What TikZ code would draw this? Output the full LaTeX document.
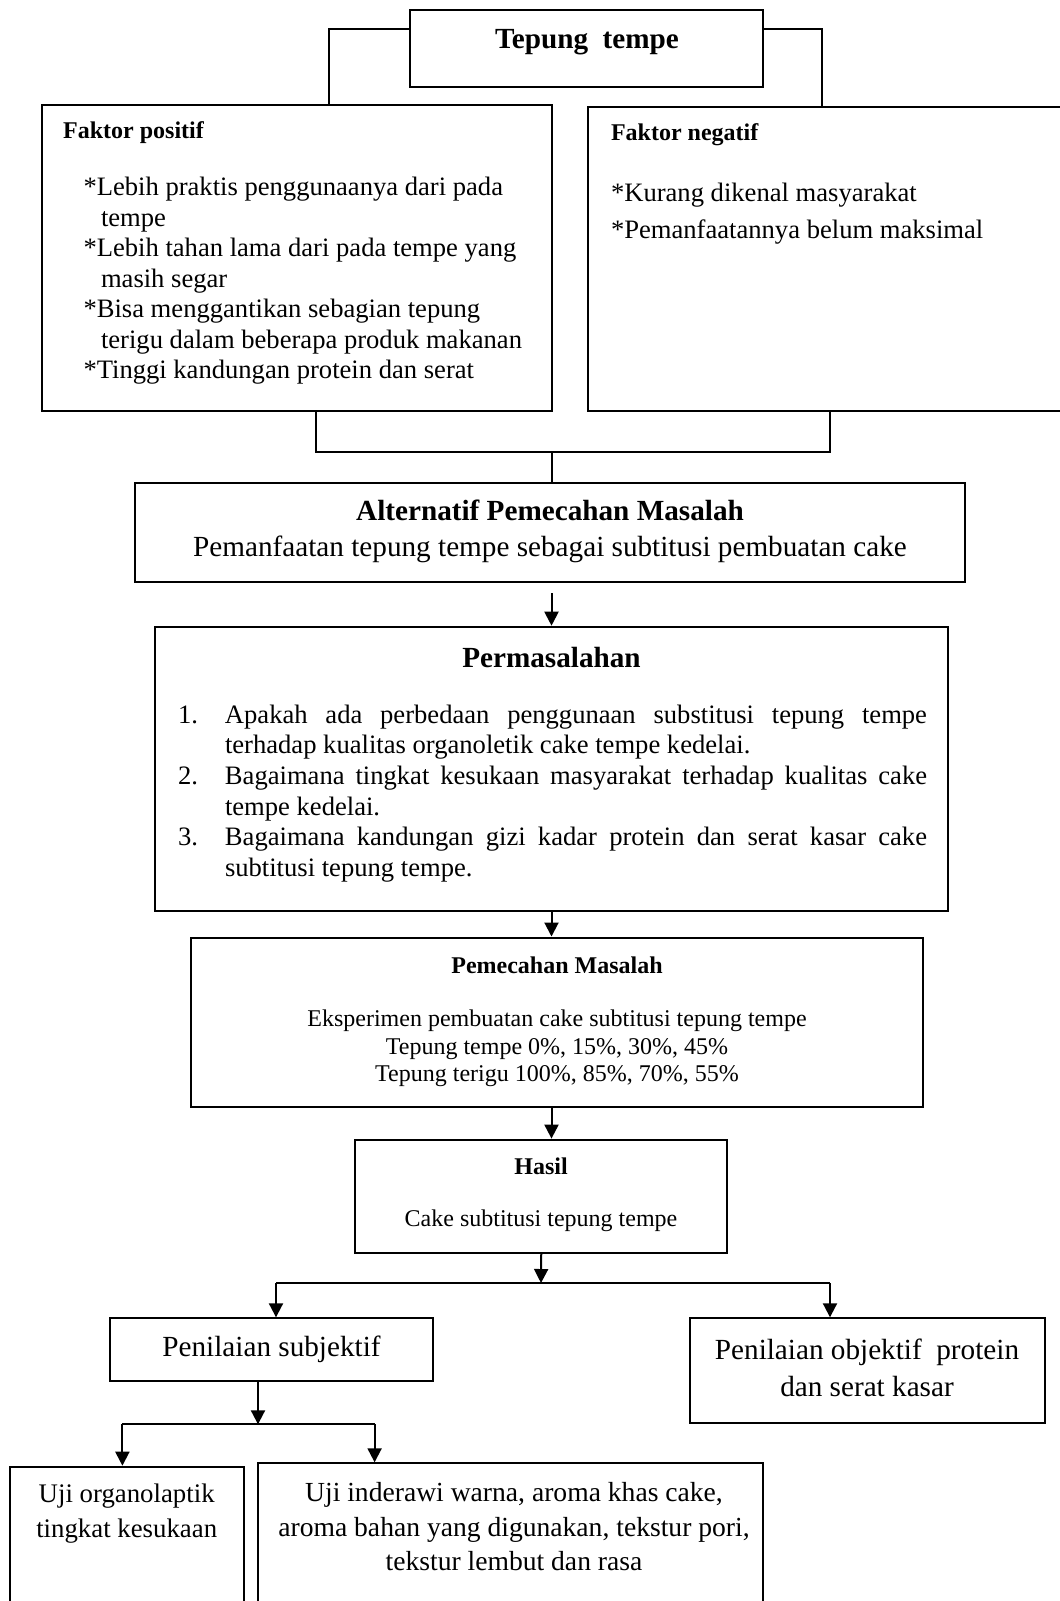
\documentclass[tikz,border=0pt]{standalone}
\usepackage{fontspec}
\setmainfont{Liberation Serif}
\usetikzlibrary{arrows.meta,fit}

\begin{document}
\begin{tikzpicture} [x=0.5pt, y=-0.5pt, line width=1pt
    , >={Triangle[length=7pt,width=7pt]}
    , box/.style={draw, inner sep=0pt}
    , big/.style={inner sep=0pt, font=\fontsize{14.6}{17.9}\selectfont}
    , mid/.style={inner sep=0pt, font=\fontsize{13.3}{15.25}\selectfont}
    , small/.style={inner sep=0pt, font=\fontsize{12}{13.8}\selectfont}
    ]
    \useasboundingbox (0,0) rectangle (1060,1601);

    % boxes
    \node[box, fit={(409.7,10) (762.7,86.7)}] (tepung) {};
    \node[box, fit={(41.9,105) (552.4,411)}] (positif) {};
    \node[box, fit={(588.2,107.3) (1080,411)}] (negatif) {};
    \node[box, fit={(134.8,483) (965,582)}] (alternatif) {};
    \node[box, fit={(155,626.7) (948,911)}] (masalah) {};
    \node[box, fit={(191,937.5) (923.2,1107)}] (pemecahan) {};
    \node[box, fit={(355.4,1139.6) (727.1,1253)}] (hasil) {};
    \node[box, fit={(109.5,1318.3) (433.4,1381)}] (subjektif) {};
    \node[box, fit={(689.6,1318.3) (1044.6,1422.7)}] (objektif) {};
    \node[box, fit={(9.5,1466.7) (244,1625)}] (organo) {};
    \node[box, fit={(258,1463.3) (762.7,1625)}] (inderawi) {};

    % texts
    \node[big] (tepungT) at (587,42.5) {\textbf{Tepung\ \ tempe}};
    \node[small, anchor=west] (positifT) at (62.2,132.5) {\textbf{Faktor positif}};
    \node[mid, anchor=west, align=left] (positifL) at (82.5,281) {*Lebih praktis penggunaanya dari pada\\
      \hspace*{8.75pt}tempe\\
      *Lebih tahan lama dari pada tempe yang\\
      \hspace*{8.75pt}masih segar\\
      *Bisa menggantikan sebagian tepung\\
      \hspace*{8.75pt}terigu dalam beberapa produk makanan\\
      *Tinggi kandungan protein dan serat};
    \node[small, anchor=west] (negatifT) at (610,134.5) {\textbf{Faktor negatif}};
    \node[mid, anchor=west, align=left, font=\fontsize{13.3}{18.3}\selectfont] (negatifL) at (610,213.5)
      {*Kurang dikenal masyarakat\\*Pemanfaatannya belum maksimal};
    \node[big, align=center] (alternatifT) at (550,531.5) {\textbf{Alternatif Pemecahan Masalah}\\
      Pemanfaatan tepung tempe sebagai subtitusi pembuatan cake};
    \node[big] (masalahT) at (551.5,657.5) {\textbf{Permasalahan}};
    \node[mid, anchor=west, text width=374.5pt, align=justify, font=\fontsize{13.3}{15.35}\selectfont] (masalahL) at (177,793.5) {%
      \noindent\hangindent=23.5pt\hangafter=1\makebox[23.5pt][l]{1.}Apakah ada perbedaan penggunaan substitusi tepung tempe\linebreak
      terhadap kualitas organoletik cake tempe kedelai.\par
      \noindent\hangindent=23.5pt\hangafter=1\makebox[23.5pt][l]{2.}Bagaimana tingkat kesukaan masyarakat terhadap kualitas cake\linebreak
      tempe kedelai.\par
      \noindent\hangindent=23.5pt\hangafter=1\makebox[23.5pt][l]{3.}Bagaimana kandungan gizi kadar protein dan serat kasar cake\linebreak
      subtitusi tepung tempe.\par};
    \node[small] (pemecahanT) at (557,965) {\textbf{Pemecahan Masalah}};
    \node[small, align=center] (pemecahanL) at (557,1048.5) {Eksperimen pembuatan cake subtitusi tepung tempe\\
      Tepung tempe 0\%, 15\%, 30\%, 45\%\\
      Tepung terigu 100\%, 85\%, 70\%, 55\%};
    \node[small] (hasilT) at (541,1166) {\textbf{Hasil}};
    \node[small] (hasilL) at (541,1221) {Cake subtitusi tepung tempe};
    \node[big] (subjektifT) at (271.5,1349.5) {Penilaian subjektif};
    \node[big, align=center, font=\fontsize{14.6}{18.5}\selectfont] (objektifT) at (867,1367.5)
      {Penilaian objektif\ \ protein\\dan serat kasar};
    \node[big, align=center, font=\fontsize{13.4}{17.5}\selectfont] (organoT) at (126.7,1513.5)
      {Uji organolaptik\\tingkat kesukaan};
    \node[big, align=center, font=\fontsize{13.8}{17.25}\selectfont] (inderawiT) at (514,1527)
      {Uji inderawi warna, aroma khas cake,\\aroma bahan yang digunakan, tekstur pori,\\tekstur lembut dan rasa};

    % connectors
    \coordinate (join) at (552.4,452.3);
    \coordinate (split) at (541,1283);
    \coordinate (toSub) at (276,1283);
    \coordinate (toObj) at (830,1283);
    \coordinate (split2) at (258,1424.3);
    \coordinate (toOrg) at (122.4,1424.3);
    \coordinate (toInd) at (374.6,1424.3);

    \draw (tepung.west |- 0,29) -| (positif.north -| 328.6,0);
    \draw (tepung.east |- 0,29) -| (negatif.north -| 822,0);
    \draw (positif.south -| 316.4,0) |- (join) -| (negatif.south -| 830.3,0);
    \draw (join) -- (join |- alternatif.north);
    \draw (toSub) -- (toObj);
    \draw (toOrg) -- (toInd);

    \path[->]
      (alternatif.south -| masalah.north) edge[shorten <=5pt] (masalah.north)
      (masalah.south) edge (masalah.south |- pemecahan.north)
      (masalah.south |- pemecahan.south) edge (masalah.south |- hasil.north)
      (hasil.south) edge (split)
      (toSub) edge (toSub |- subjektif.north)
      (toObj) edge (toObj |- objektif.north)
      (subjektif.south -| split2) edge (split2)
      (toOrg) edge (toOrg |- organo.north)
      (toInd) edge (toInd |- inderawi.north)
      ;
\end{tikzpicture}
\end{document}
